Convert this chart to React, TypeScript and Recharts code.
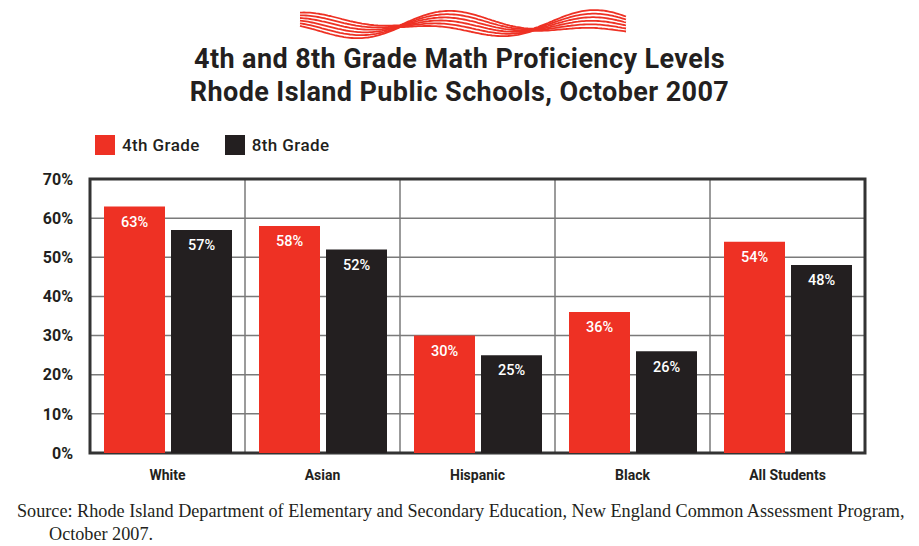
import React from "react";
import {
  BarChart,
  Bar,
  XAxis,
  YAxis,
  CartesianGrid,
  LabelList,
  ReferenceArea,
} from "recharts";

const RED = "#ee3124";
const BLACK = "#231f20";
const GRID = "#7a7a7a";

const groups = ["White", "Asian", "Hispanic", "Black", "All Students"];
const grade4 = [63, 58, 30, 36, 54];
const grade8 = [57, 52, 25, 26, 48];
const yTicks = [0, 10, 20, 30, 40, 50, 60, 70];
const bandTicks = [0, 1, 2, 3, 4, 5];

const rows = groups.map((g, i) => ({ group: g, g4: grade4[i], g8: grade8[i] }));

const SANS = "Roboto, 'Open Sans', sans-serif";

// decorative striped ribbon above the title
const Wave: React.FC = () => {
  const paths: string[] = [];
  for (let s = 0; s < 6; s++) {
    const k = (s - 2.5) / 2.5;
    let d = "";
    for (let x = 300; x <= 627; x += 2) {
      const c = 25 - 6 * Math.sin((2 * Math.PI * (x - 405)) / 150);
      const w = 1 + 8 * Math.abs(Math.sin((Math.PI * (x - 400)) / 133));
      d += (x === 300 ? "M" : "L") + x + "," + (c + k * w).toFixed(1);
    }
    paths.push(d);
  }
  return (
    <svg width={919} height={45} style={{ position: "absolute", left: 0, top: 0 }}>
      {paths.map((d, i) => (
        <path key={i} d={d} fill="none" stroke={RED} strokeWidth={1.8} />
      ))}
    </svg>
  );
};

const LegendBox: React.FC = () => (
  <div
    style={{
      position: "absolute",
      left: 95,
      top: 135,
      display: "flex",
      alignItems: "center",
      fontFamily: SANS,
      fontSize: 17,
      fontWeight: 500,
      letterSpacing: 0.4,
      color: BLACK,
    }}
  >
    <span style={{ width: 20, height: 20, background: RED, display: "inline-block" }} />
    <span style={{ marginLeft: 7, marginRight: 25 }}>4th Grade</span>
    <span style={{ width: 20, height: 20, background: BLACK, display: "inline-block" }} />
    <span style={{ marginLeft: 7 }}>8th Grade</span>
  </div>
);

// band axis: one unit per group, so grid lines fall between the groups
const bandPos = (d: { group: string }) => groups.indexOf(d.group) + 0.5;

export default function App() {
  return (
    <div
      style={{
        position: "absolute",
        left: 0,
        top: 0,
        width: 919,
        height: 546,
        background: "#fff",
        overflow: "hidden",
      }}
    >
      <Wave />
      <div
        style={{
          position: "absolute",
          left: 0,
          top: 43,
          width: 919,
          textAlign: "center",
          fontFamily: SANS,
          fontWeight: 700,
          fontSize: 27,
          letterSpacing: 0.4,
          lineHeight: "33px",
          color: BLACK,
        }}
      >
        4th and 8th Grade Math Proficiency Levels
        <br />
        Rhode Island Public Schools, October 2007
      </div>
      <LegendBox />
      <div style={{ position: "absolute", left: 0, top: 0 }}>
        <BarChart
          width={919}
          height={488}
          data={rows}
          margin={{ top: 179, right: 54, left: 0, bottom: 0 }}
          barCategoryGap={14}
          barGap={6}
        >
          <CartesianGrid xAxisId="band" stroke={GRID} strokeWidth={1.5} />
          <XAxis
            xAxisId="band"
            dataKey={bandPos}
            type="number"
            domain={[0, 5]}
            ticks={bandTicks}
            allowDataOverflow
            height={0}
            hide
          />
          <XAxis
            xAxisId="cat"
            dataKey="group"
            axisLine={false}
            tickLine={false}
            tickSize={0}
            tickMargin={17}
            height={35}
            tick={{ fontSize: 14, fontWeight: 700, fill: BLACK, fontFamily: SANS }}
          />
          <YAxis
            domain={[0, 70]}
            ticks={yTicks}
            width={90}
            axisLine={false}
            tickLine={false}
            tickSize={0}
            tickMargin={17}
            tickFormatter={(v) => `${v}%`}
            tick={{ fontSize: 16, fontWeight: 700, fill: BLACK, fontFamily: SANS }}
          />
          <Bar xAxisId="cat" dataKey="g4" fill={RED} isAnimationActive={false}>
            <LabelList
              dataKey="g4"
              position="insideTop"
              offset={10}
              formatter={(v: number) => `${v}%`}
              style={{ fill: "#fff", fontSize: 14.5, fontWeight: 500, fontFamily: SANS }}
            />
          </Bar>
          <Bar xAxisId="cat" dataKey="g8" fill={BLACK} isAnimationActive={false}>
            <LabelList
              dataKey="g8"
              position="insideTop"
              offset={10}
              formatter={(v: number) => `${v}%`}
              style={{ fill: "#fff", fontSize: 14.5, fontWeight: 500, fontFamily: SANS }}
            />
          </Bar>
          <ReferenceArea
            xAxisId="band"
            x1={0}
            x2={5}
            y1={0}
            y2={70}
            fill="none"
            stroke="#333"
            strokeWidth={3}
            ifOverflow="visible"
          />
        </BarChart>
      </div>
      <div
        style={{
          position: "absolute",
          left: 17,
          top: 500,
          width: 910,
          fontFamily: "'Liberation Serif', 'Times New Roman', serif",
          fontSize: 18.2,
          lineHeight: "23px",
          color: BLACK,
          whiteSpace: "nowrap",
        }}
      >
        Source: Rhode Island Department of Elementary and Secondary Education, New England Common Assessment Program,
        <div style={{ paddingLeft: 32 }}>October 2007.</div>
      </div>
    </div>
  );
}
